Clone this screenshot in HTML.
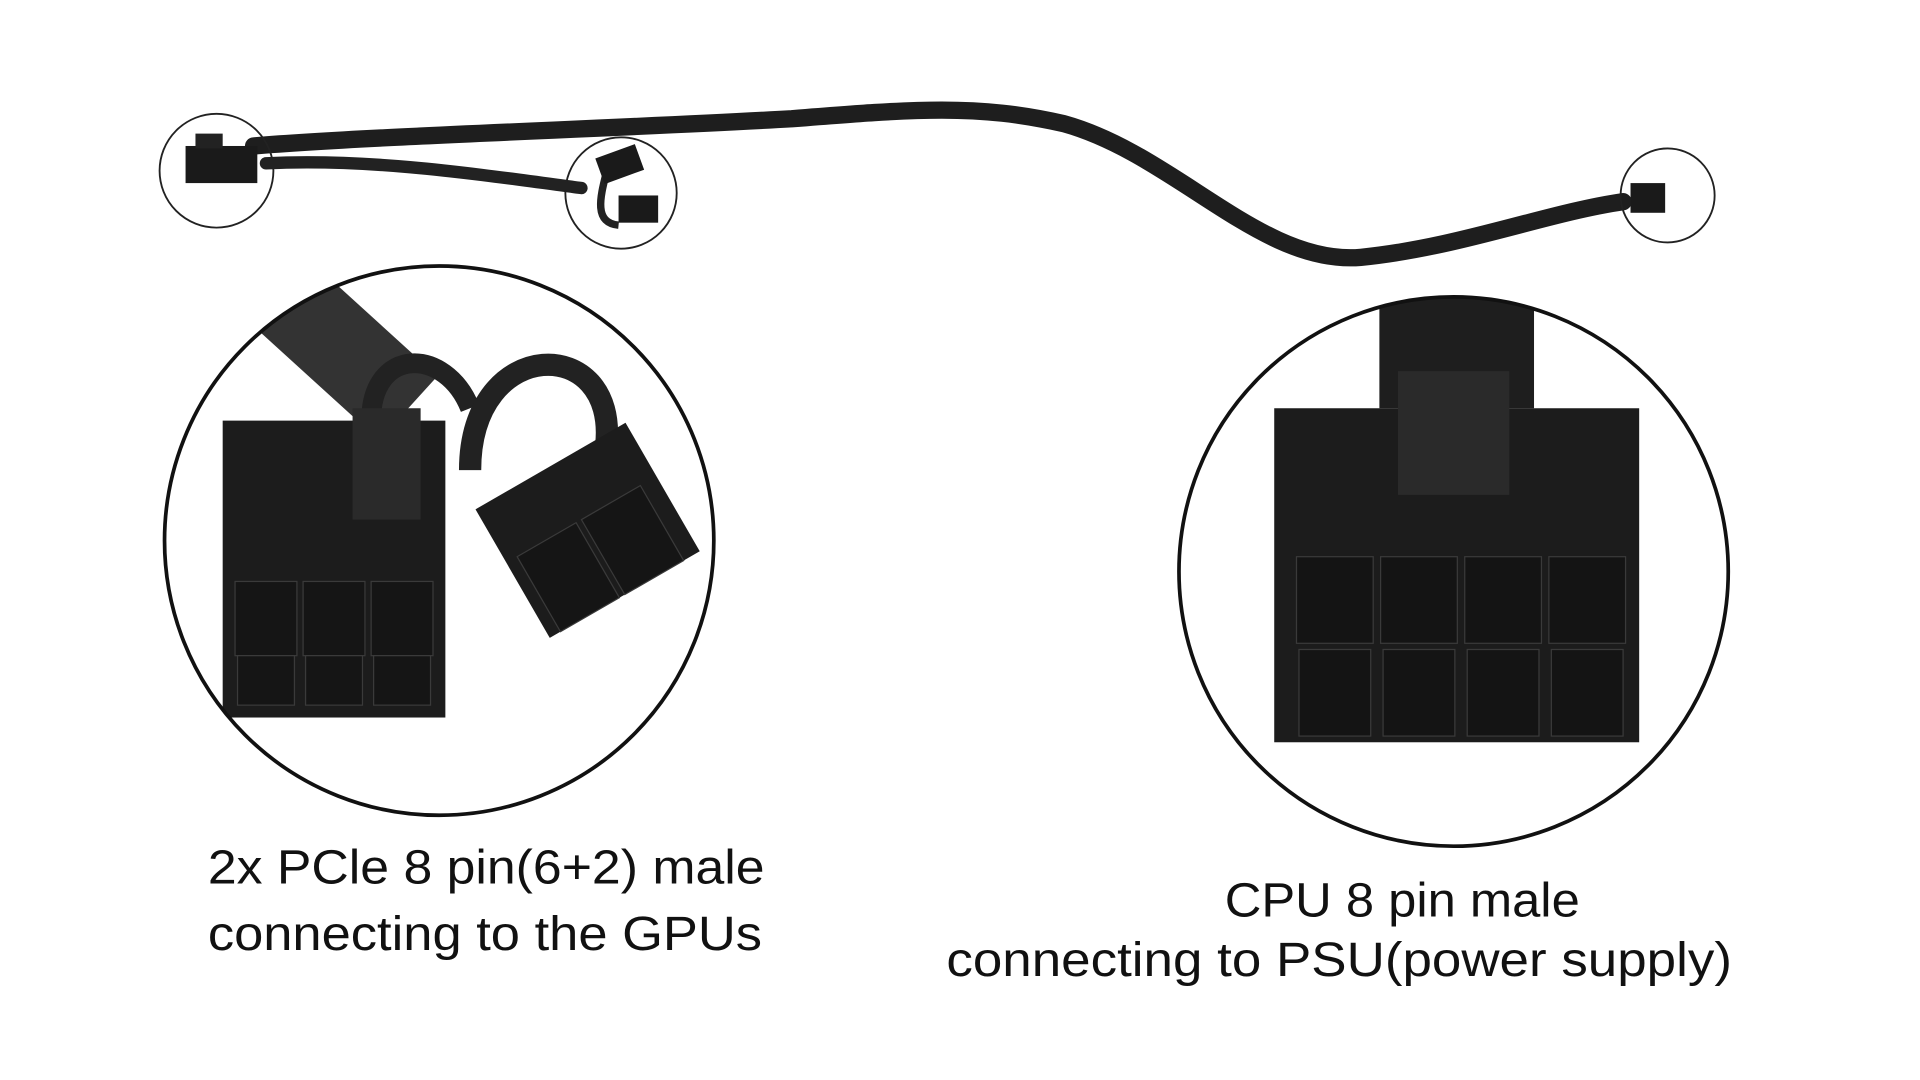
<!DOCTYPE html>
<html><head><meta charset="utf-8"><style>
html,body{margin:0;padding:0;background:#fff;}
svg{display:block;}
text{font-family:"Liberation Sans",sans-serif;fill:#111;}
</style></head><body>
<svg width="1920" height="1080" viewBox="0 0 1552 873" xmlns="http://www.w3.org/2000/svg">
<rect width="1552" height="873" fill="#fff"/>
<!-- cables -->
<path d="M205,118 C300,110 500,104 640,96 C740,88 790,84 860,100 C950,125 1020,215 1100,208 C1180,200 1250,172 1312,163" fill="none" stroke="#1e1e1e" stroke-width="14" stroke-linecap="round"/>
<path d="M215,132 C300,128 380,140 470,152" fill="none" stroke="#222" stroke-width="10" stroke-linecap="round"/>
<path d="M490,140 C485,160 480,180 500,182" fill="none" stroke="#222" stroke-width="6"/>
<!-- small connectors -->
<rect x="150" y="118" width="58" height="30" fill="#1a1a1a"/>
<rect x="158" y="108" width="22" height="12" fill="#222"/>
<rect x="484" y="122" width="34" height="22" fill="#1a1a1a" transform="rotate(-20 500 133)"/>
<rect x="500" y="158" width="32" height="22" fill="#1a1a1a"/>
<rect x="1318" y="148" width="28" height="24" fill="#1a1a1a"/>
<!-- small circles -->
<circle cx="175" cy="138" r="46" fill="none" stroke="#222" stroke-width="1.5"/>
<circle cx="502" cy="156" r="45" fill="none" stroke="#222" stroke-width="1.5"/>
<circle cx="1348" cy="158" r="38" fill="none" stroke="#222" stroke-width="1.5"/>
<!-- big left circle -->
<defs>
<clipPath id="cl"><circle cx="355" cy="437" r="222"/></clipPath>
<clipPath id="cr"><circle cx="1175" cy="462" r="222"/></clipPath>
</defs>
<g clip-path="url(#cl)">
<path d="M220,230 L330,330" stroke="#333" stroke-width="70"/>
<path d="M300,340 C300,280 360,280 380,330" fill="none" stroke="#222" stroke-width="16"/>
<path d="M380,380 C380,270 500,270 490,360" fill="none" stroke="#222" stroke-width="18"/>
<rect x="180" y="340" width="180" height="240" fill="#1c1c1c"/>
<rect x="285" y="330" width="55" height="90" fill="#2a2a2a"/>
<g fill="#151515" stroke="#3a3a3a">
<rect x="190" y="470" width="50" height="60"/><rect x="245" y="470" width="50" height="60"/><rect x="300" y="470" width="50" height="60"/>
<rect x="192" y="530" width="46" height="40"/><rect x="247" y="530" width="46" height="40"/><rect x="302" y="530" width="46" height="40"/>
</g>
<g transform="rotate(-30 470 420)">
<rect x="400" y="370" width="140" height="120" fill="#1c1c1c"/>
<rect x="410" y="420" width="55" height="70" fill="#151515" stroke="#3a3a3a"/>
<rect x="470" y="420" width="55" height="70" fill="#151515" stroke="#3a3a3a"/>
</g>
</g>
<circle cx="355" cy="437" r="222" fill="none" stroke="#111" stroke-width="3"/>
<!-- big right circle -->
<g clip-path="url(#cr)">
<rect x="1115" y="240" width="125" height="90" fill="#1e1e1e"/>
<rect x="1030" y="330" width="295" height="270" fill="#1c1c1c"/>
<rect x="1130" y="300" width="90" height="100" fill="#2a2a2a"/>
<g fill="#141414" stroke="#3a3a3a">
<rect x="1048" y="450" width="62" height="70"/><rect x="1116" y="450" width="62" height="70"/><rect x="1184" y="450" width="62" height="70"/><rect x="1252" y="450" width="62" height="70"/>
<rect x="1050" y="525" width="58" height="70"/><rect x="1118" y="525" width="58" height="70"/><rect x="1186" y="525" width="58" height="70"/><rect x="1254" y="525" width="58" height="70"/>
</g>
</g>
<circle cx="1175" cy="462" r="222" fill="none" stroke="#111" stroke-width="3"/>
<!-- labels -->
<text x="168" y="714" font-size="39" textLength="450" lengthAdjust="spacingAndGlyphs">2x PCle 8 pin(6+2) male</text>
<text x="168" y="768" font-size="39" textLength="448" lengthAdjust="spacingAndGlyphs">connecting to the GPUs</text>
<text x="990" y="741" font-size="39" textLength="287" lengthAdjust="spacingAndGlyphs">CPU 8 pin male</text>
<text x="765" y="789" font-size="39" textLength="635" lengthAdjust="spacingAndGlyphs">connecting to PSU(power supply)</text>
</svg>
</body></html>
